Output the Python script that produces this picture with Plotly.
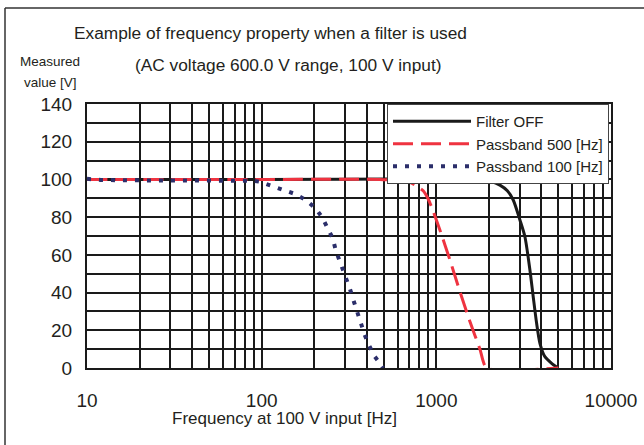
import plotly.graph_objects as go

# --- data --------------------------------------------------------------------
FREQ_OFF = [10, 100, 1000, 1500, 1777, 2050, 2312, 2550, 2756, 3010, 3215, 3434,
            3586, 3751, 3918, 4183, 4571, 4987]
VOLT_OFF = [100, 100, 100.3, 100.3, 100.1, 99.0, 97.0, 94.0, 89.1, 78.5, 69.6, 52.0,
            37.8, 23.7, 13.1, 6.0, 2.5, 0]

FREQ_500 = [10, 100, 475, 620, 706, 771, 841, 900, 960, 1048, 1196, 1365, 1557,
            1777, 1941, 5000]
VOLT_500 = [100, 100, 100, 99.2, 98.5, 96.5, 94.0, 89.5, 83.0, 73.2, 57.3, 40.5,
            24.6, 10.0, 0, 0]

FREQ_100 = [10, 12, 20, 50, 90, 97, 113, 131, 154, 178, 203, 222, 239, 255, 266,
            284, 300, 320, 336, 353, 372, 389, 412, 439, 480, 495]
VOLT_100 = [100.3, 99.7, 99.5, 99.6, 99.3, 98.8, 96.7, 94.8, 92.4, 89.2, 84.8, 79.9,
            73.7, 68.8, 62.2, 55.5, 48.9, 42.0, 35.7, 29.5, 23.5, 17.5, 12.0, 6.7,
            2.0, 0]

X_TICKS = [m * 10 ** d for d in range(1, 4) for m in range(1, 10)] + [10000]
X_LABELS = [str(v) if v in (10, 100, 1000, 10000) else "" for v in X_TICKS]

TITLE_1 = "Example of frequency property when a filter is used"
TITLE_2 = "(AC voltage 600.0 V range, 100 V input)"
X_TITLE = "Frequency at 100 V input [Hz]"

# --- style ---------------------------------------------------------------------
FONT = "Liberation Sans, Arial, sans-serif"
INK = "#231f20"
BLACK = "#1a1a1a"
RED = "#ef3340"
NAVY = "#2b2e6a"
GRID = "#1a1a1a"

W, H = 644, 445
L, R, T, B = 87, 611, 104, 368


def px(x):
    return (x - L) / (R - L)


def py(y):
    return (B - y) / (B - T)


fig = go.Figure()
fig.add_trace(go.Scatter(x=FREQ_OFF, y=VOLT_OFF, name="Filter OFF", mode="lines",
                         line=dict(color=BLACK, width=3, shape="spline", smoothing=0.7)))
fig.add_trace(go.Scatter(x=FREQ_500, y=VOLT_500, name="Passband 500 [Hz]", mode="lines",
                         line=dict(color=RED, width=3, dash="20px,8px",
                                   shape="spline", smoothing=0.6)))
fig.add_trace(go.Scatter(x=FREQ_100, y=VOLT_100, name="Passband 100 [Hz]", mode="lines",
                         line=dict(color=NAVY, width=4, dash="4px,8px")))

fig.update_layout(
    width=W, height=H,
    margin=dict(l=L, r=W - R, t=T, b=H - B),
    paper_bgcolor="white", plot_bgcolor="white",
    font=dict(family=FONT, color=INK, size=17),
    showlegend=True,
    legend=dict(
        x=px(609), xanchor="right", y=1.0, yanchor="top",
        bgcolor="white", bordercolor="#444", borderwidth=1,
        font=dict(size=15, color=INK), itemwidth=78, tracegroupgap=0,
    ),
)
fig.update_xaxes(
    type="log", range=[1, 4], automargin=False, layer="below traces",
    tickvals=X_TICKS, ticktext=X_LABELS,
    showgrid=True, gridcolor=GRID, gridwidth=1.6,
    showline=True, mirror=True, linecolor=BLACK, linewidth=2,
    ticks="", ticklabelstandoff=14, tickfont=dict(size=19, color=INK),
    zeroline=False,
)
fig.update_yaxes(
    range=[0, 140], dtick=20, automargin=False, layer="below traces",
    showgrid=True, gridcolor=GRID, gridwidth=1.6,
    minor=dict(dtick=10, showgrid=True, gridcolor=GRID, gridwidth=1.6),
    showline=True, mirror=True, linecolor=BLACK, linewidth=2,
    ticks="", ticklabelstandoff=9, tickfont=dict(size=19, color=INK),
    zeroline=False,
)

# titles and captions as free text
for text, x, y, size in [
    (TITLE_1, 270, 33, 17.3),
    (TITLE_2, 288, 65, 17.3),
    ("Measured", 50, 62, 13.5),
    ("value [V]", 50, 82, 13.5),
    (X_TITLE, 284, 418, 17),
]:
    fig.add_annotation(text=text, xref="paper", yref="paper", x=px(x), y=py(y),
                       xanchor="center", yanchor="middle", showarrow=False,
                       font=dict(size=size, color=INK))

# outer frame (only the top and left edges show in the crop)
fig.add_shape(type="line", xref="paper", yref="paper", x0=px(5), x1=px(660),
              y0=py(8), y1=py(8), line=dict(color="#333", width=1.5))
fig.add_shape(type="line", xref="paper", yref="paper", x0=px(5), x1=px(5),
              y0=py(8), y1=py(460), line=dict(color="#333", width=1.5))

# drop the default 8px page margin so the figure fills the window
fig.write_html("out.html", config={"displayModeBar": False},
               post_script="document.body.style.margin='0';")
